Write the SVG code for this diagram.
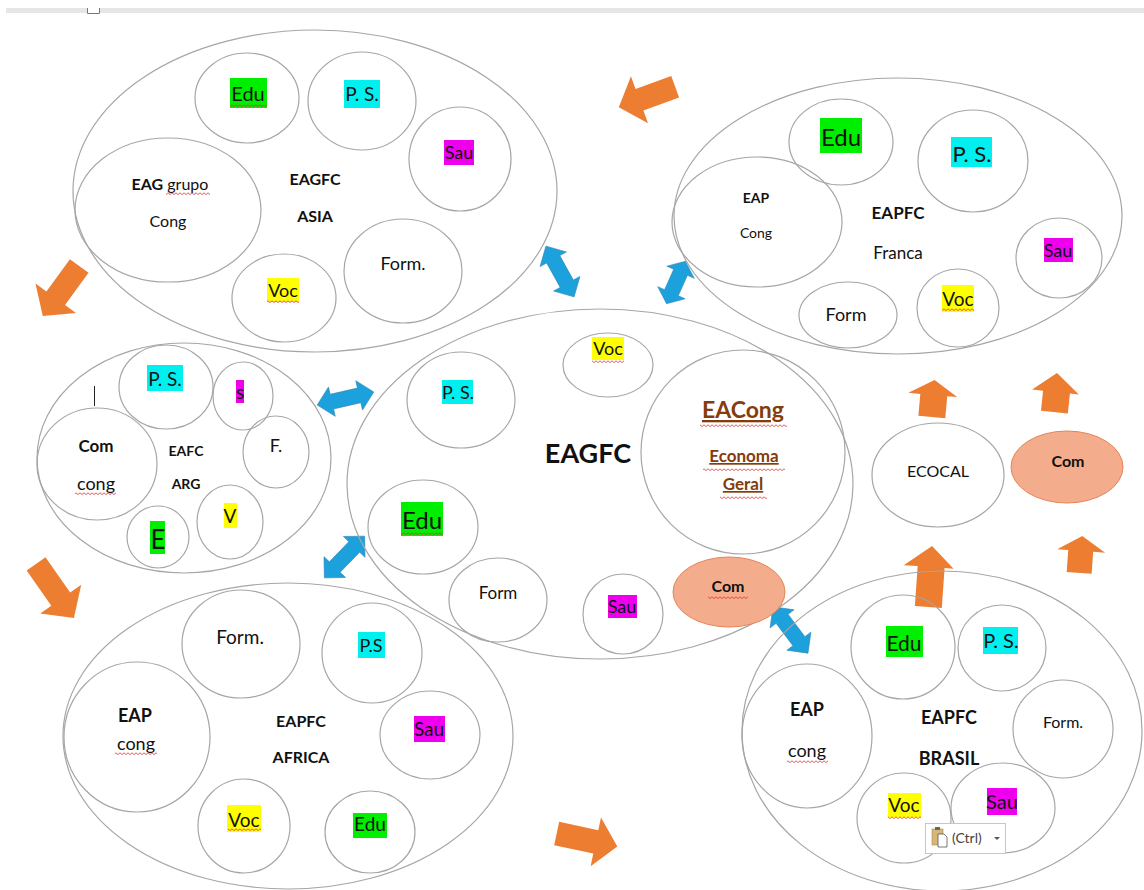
<svg xmlns="http://www.w3.org/2000/svg" width="1144" height="890" viewBox="0 0 1144 890">
<defs>
<style>
.o{fill:none;stroke:#a6a6a6;stroke-width:1.2}
.c{fill:#f3ad8d;stroke:#e58455;stroke-width:1}
.t{font-family:Lato,'Liberation Sans',sans-serif;fill:#111;text-anchor:middle}
.b{font-weight:bold}
.br{fill:#843c0c;font-weight:bold;text-decoration:underline}
.hg{fill:#00ee00}.hc{fill:#00f0f0}.hm{fill:#ee00ee}.hy{fill:#ffff00}
.oa{fill:#ed7d31}
.ba{fill:#1da1dc;stroke:#2f86b5;stroke-width:0.6}
.w{fill:url(#wv)}
</style>
<pattern id="wv" width="4" height="4" patternUnits="userSpaceOnUse"><path d="M0,0.8 L2,2.6 L4,0.8" fill="none" stroke="#e03030" stroke-width="0.8"/></pattern>
<path id="da" d="M-29,0 L-14,-15 L-14,-7.5 L14,-7.5 L14,-15 L29,0 L14,15 L14,7.5 L-14,7.5 L-14,15 Z"/>
</defs>
<rect width="1144" height="890" fill="#ffffff"/>
<rect x="6" y="8" width="1138" height="5" fill="#e6e6e6"/>
<path d="M87.5,8 V13.5 H99.5 V8" fill="#ffffff" stroke="#777" stroke-width="1"/>

<g id="connectors">
<path class="oa" transform="translate(647,97) rotate(160)" d="M-30,-11.5 L8,-11.5 L8,-25 L30,0 L8,25 L8,11.5 L-30,11.5 Z"/>
<path class="oa" transform="translate(61,291) rotate(126)" d="M-31,-11.5 L9,-11.5 L9,-25 L31,0 L9,25 L9,11.5 L-31,11.5 Z"/>
<path class="oa" transform="translate(55,591) rotate(55)" d="M-33,-11.5 L10,-11.5 L10,-25 L33,0 L10,25 L10,11.5 L-33,11.5 Z"/>
<path class="oa" transform="translate(587,840) rotate(12)" d="M-31,-12 L9,-12 L9,-25 L31,0 L9,25 L9,12 L-31,12 Z"/>
<path class="oa" transform="rotate(5 933 398)" d="M920,417 V395 H908 L933,380 L957,395 H947 V417 Z"/>
<path class="oa" transform="rotate(6 1055 392)" d="M1043,412 V392 H1032 L1055,373 L1079,392 H1070 V412 Z"/>
<path class="oa" transform="rotate(4 1081 554)" d="M1068,573 V551 H1057 L1081,536 L1105,551 H1093 V573 Z"/>
<path class="oa" transform="rotate(4 930 576)" d="M917,607 V567 H903 L930,546 L953,567 H944 V607 Z"/>
<use href="#da" class="ba" transform="translate(560,271.5) rotate(61)"/>
<use href="#da" class="ba" transform="translate(676,282.5) rotate(114) scale(0.8,1)"/>
<use href="#da" class="ba" transform="translate(345.5,398.5) rotate(-13)"/>
<use href="#da" class="ba" transform="translate(344.5,557) rotate(-46)"/>
<use href="#da" class="ba" transform="translate(790.5,630) rotate(53)"/>
</g>

<g id="asia">
<ellipse class="o" cx="315" cy="191" rx="242" ry="161"/>
<ellipse class="o" cx="247" cy="98" rx="52" ry="45"/>
<ellipse class="o" cx="362" cy="101" rx="54" ry="49"/>
<ellipse class="o" cx="460" cy="159" rx="51" ry="52"/>
<ellipse class="o" cx="168" cy="210" rx="93" ry="72"/>
<ellipse class="o" cx="284" cy="298" rx="52" ry="44"/>
<ellipse class="o" cx="403" cy="271" rx="59" ry="52"/>
<rect class="hg" x="230" y="78" width="37" height="30"/>
<rect class="hc" x="344" y="80" width="36" height="28"/>
<rect class="hm" x="444" y="140" width="30" height="25"/>
<rect class="hy" x="267" y="278" width="32" height="24"/>
<text class="t" x="248" y="101" font-size="20">Edu</text>
<text class="t" x="362" y="101" font-size="19">P. S.</text>
<text class="t" x="459" y="159" font-size="18">Sau</text>
<text class="t" x="283" y="297" font-size="18">Voc</text>
<text class="t" x="170" y="190" font-size="16"><tspan class="b">EAG</tspan> grupo</text>
<text class="t" x="168" y="227" font-size="16">Cong</text>
<text class="t b" x="315" y="185" font-size="16">EAGFC</text>
<text class="t b" x="315" y="222" font-size="16">ASIA</text>
<text class="t" x="403" y="270" font-size="18">Form.</text>
<rect class="w" x="230" y="104" width="37" height="3"/>
<rect class="w" x="166" y="192" width="44" height="3"/>
<rect class="w" x="267" y="300" width="32" height="3"/>
</g>

<g id="franca">
<ellipse class="o" cx="898" cy="216" rx="224" ry="138"/>
<ellipse class="o" cx="841" cy="142" rx="52" ry="43"/>
<ellipse class="o" cx="973" cy="161" rx="55" ry="51"/>
<ellipse class="o" cx="757" cy="222" rx="85" ry="65"/>
<ellipse class="o" cx="1059" cy="258" rx="43" ry="40"/>
<ellipse class="o" cx="848" cy="315" rx="49" ry="33"/>
<ellipse class="o" cx="958" cy="308" rx="41" ry="39"/>
<rect class="hg" x="820" y="118" width="42" height="35"/>
<rect class="hc" x="951" y="137" width="41" height="30"/>
<rect class="hm" x="1044" y="238" width="29" height="24"/>
<rect class="hy" x="942" y="285" width="32" height="27"/>
<text class="t" x="841" y="146" font-size="24">Edu</text>
<text class="t" x="972" y="162" font-size="22">P. S.</text>
<text class="t b" x="756" y="203" font-size="14">EAP</text>
<text class="t" x="756" y="238" font-size="14">Cong</text>
<text class="t b" x="898" y="219" font-size="17">EAPFC</text>
<text class="t" x="898" y="259" font-size="17">Franca</text>
<text class="t" x="1058" y="257" font-size="18">Sau</text>
<text class="t" x="846" y="321" font-size="18">Form</text>
<text class="t" x="958" y="306" font-size="19">Voc</text>
<rect class="w" x="942" y="308" width="32" height="3"/>
</g>

<g id="arg">
<ellipse class="o" cx="184" cy="458" rx="147" ry="115"/>
<ellipse class="o" cx="166" cy="387" rx="47" ry="42"/>
<ellipse class="o" cx="243" cy="396" rx="30" ry="34"/>
<ellipse class="o" cx="97" cy="464" rx="60" ry="56"/>
<ellipse class="o" cx="276" cy="452" rx="33" ry="36"/>
<ellipse class="o" cx="230" cy="522" rx="33" ry="37"/>
<ellipse class="o" cx="158" cy="537" rx="31" ry="31"/>
<rect class="hc" x="147" y="365" width="36" height="26"/>
<rect class="hm" x="236" y="380" width="8" height="23"/>
<rect class="hy" x="224" y="503" width="13" height="25"/>
<rect class="hg" x="150" y="521" width="15" height="33"/>
<line x1="94.5" y1="386" x2="94.5" y2="406" stroke="#222" stroke-width="1"/>
<text class="t" x="165" y="386" font-size="19">P. S.</text>
<text class="t" x="240" y="399" font-size="19">s</text>
<text class="t b" x="96" y="452" font-size="17">Com</text>
<text class="t" x="96" y="490" font-size="18">cong</text>
<text class="t b" x="186" y="456" font-size="14">EAFC</text>
<text class="t b" x="186" y="489" font-size="14">ARG</text>
<text class="t" x="276" y="452" font-size="18">F.</text>
<text class="t" x="230" y="523" font-size="19">V</text>
<text class="t" x="158" y="549" font-size="26">E</text>
<rect class="w" x="75" y="492" width="41" height="3"/>
</g>

<g id="center">
<ellipse class="o" cx="600" cy="484" rx="253" ry="175"/>
<ellipse class="o" cx="608" cy="365" rx="45" ry="32"/>
<ellipse class="o" cx="461" cy="400" rx="54" ry="48"/>
<ellipse class="o" cx="743" cy="452" rx="102" ry="102"/>
<ellipse class="o" cx="423" cy="527" rx="55" ry="47"/>
<ellipse class="o" cx="498" cy="600" rx="49" ry="42"/>
<ellipse class="o" cx="623" cy="614" rx="40" ry="40"/>
<ellipse class="c" cx="729" cy="592" rx="56" ry="35"/>
<rect class="hy" x="592" y="337" width="32" height="23"/>
<rect class="hc" x="442" y="380" width="31" height="24"/>
<rect class="hg" x="401" y="502" width="42" height="34"/>
<rect class="hm" x="608" y="595" width="29" height="23"/>
<text class="t" x="608" y="355" font-size="18">Voc</text>
<text class="t" x="458" y="399" font-size="18">P. S.</text>
<text class="t b" x="588" y="463" font-size="27">EAGFC</text>
<text class="t br" x="743" y="418" font-size="23">EACong</text>
<text class="t br" x="744" y="462" font-size="17">Economa</text>
<text class="t br" x="743" y="490" font-size="17">Geral</text>
<text class="t" x="422" y="529" font-size="24">Edu</text>
<text class="t" x="498" y="599" font-size="17">Form</text>
<text class="t" x="622" y="613" font-size="18">Sau</text>
<text class="t b" x="728" y="592" font-size="16">Com</text>
<rect class="w" x="592" y="360" width="32" height="3"/>
<rect class="w" x="700" y="424" width="87" height="3"/>
<rect class="w" x="703" y="468" width="82" height="3"/>
<rect class="w" x="720" y="496" width="47" height="3"/>
<rect class="w" x="401" y="532" width="42" height="3"/>
<rect class="w" x="708" y="596" width="40" height="3"/>
</g>

<g id="africa">
<ellipse class="o" cx="288" cy="736" rx="225" ry="153"/>
<ellipse class="o" cx="241" cy="644" rx="59" ry="54"/>
<ellipse class="o" cx="372" cy="653" rx="50" ry="50"/>
<ellipse class="o" cx="137" cy="737" rx="73" ry="75"/>
<ellipse class="o" cx="430" cy="735" rx="50" ry="44"/>
<ellipse class="o" cx="244" cy="826" rx="46" ry="47"/>
<ellipse class="o" cx="370" cy="832" rx="45" ry="41"/>
<rect class="hc" x="358" y="632" width="27" height="26"/>
<rect class="hm" x="414" y="716" width="31" height="26"/>
<rect class="hy" x="227" y="805" width="34" height="27"/>
<rect class="hg" x="353" y="813" width="34" height="25"/>
<text class="t" x="240" y="644" font-size="19">Form.</text>
<text class="t" x="371" y="652" font-size="18">P.S</text>
<text class="t b" x="135" y="722" font-size="18">EAP</text>
<text class="t" x="136" y="750" font-size="18">cong</text>
<text class="t b" x="301" y="727" font-size="16">EAPFC</text>
<text class="t b" x="301" y="763" font-size="16">AFRICA</text>
<text class="t" x="429" y="736" font-size="19">Sau</text>
<text class="t" x="244" y="827" font-size="19">Voc</text>
<text class="t" x="370" y="831" font-size="19">Edu</text>
<rect class="w" x="115" y="752" width="42" height="3"/>
<rect class="w" x="228" y="828" width="33" height="3"/>
</g>

<g id="brasil">
<ellipse class="o" cx="942" cy="731" rx="200" ry="160"/>
<ellipse class="o" cx="903" cy="647" rx="52" ry="52"/>
<ellipse class="o" cx="1002" cy="648" rx="44" ry="43"/>
<ellipse class="o" cx="807" cy="736" rx="65" ry="72"/>
<ellipse class="o" cx="1063" cy="729" rx="50" ry="49"/>
<ellipse class="o" cx="904" cy="818" rx="47" ry="45"/>
<ellipse class="o" cx="1003" cy="808" rx="52" ry="45"/>
<rect class="hg" x="886" y="626" width="37" height="31"/>
<rect class="hc" x="983" y="627" width="35" height="27"/>
<rect class="hy" x="888" y="793" width="33" height="24"/>
<rect class="hm" x="987" y="788" width="30" height="27"/>
<text class="t" x="904" y="651" font-size="21">Edu</text>
<text class="t" x="1001" y="648" font-size="20">P. S.</text>
<text class="t b" x="807" y="716" font-size="18">EAP</text>
<text class="t" x="807" y="757" font-size="18">cong</text>
<text class="t b" x="949" y="724" font-size="18">EAPFC</text>
<text class="t b" x="949" y="765" font-size="18">BRASIL</text>
<text class="t" x="1063" y="728" font-size="16">Form.</text>
<text class="t" x="904" y="812" font-size="19">Voc</text>
<text class="t" x="1002" y="809" font-size="20">Sau</text>
<rect class="w" x="787" y="760" width="41" height="3"/>
<rect class="w" x="888" y="816" width="33" height="3"/>
<g id="paste">
<rect x="925.5" y="823.5" width="80" height="30" fill="#ffffff" stroke="#c6c6c6"/>
<rect x="932" y="829" width="11" height="16" fill="#d8b678" stroke="#a88a50" stroke-width="0.6"/>
<rect x="935" y="827" width="5" height="3" fill="#666"/>
<path d="M938,834 H944 L947,837 V847 H938 Z" fill="#ffffff" stroke="#555" stroke-width="0.8"/>
<text x="952" y="843" font-family="Lato,'Liberation Sans',sans-serif" font-size="14" fill="#444">(Ctrl)</text>
<path d="M994,837 H1000 L997,840 Z" fill="#555"/>
</g>
</g>

<g id="ecocal">
<ellipse class="o" cx="938" cy="475" rx="66" ry="52"/>
<text class="t" x="938" y="477" font-size="16">ECOCAL</text>
</g>
<g id="com-right">
<ellipse class="c" cx="1067" cy="467" rx="56" ry="36"/>
<text class="t b" x="1068" y="467" font-size="16">Com</text>
</g>
</svg>
